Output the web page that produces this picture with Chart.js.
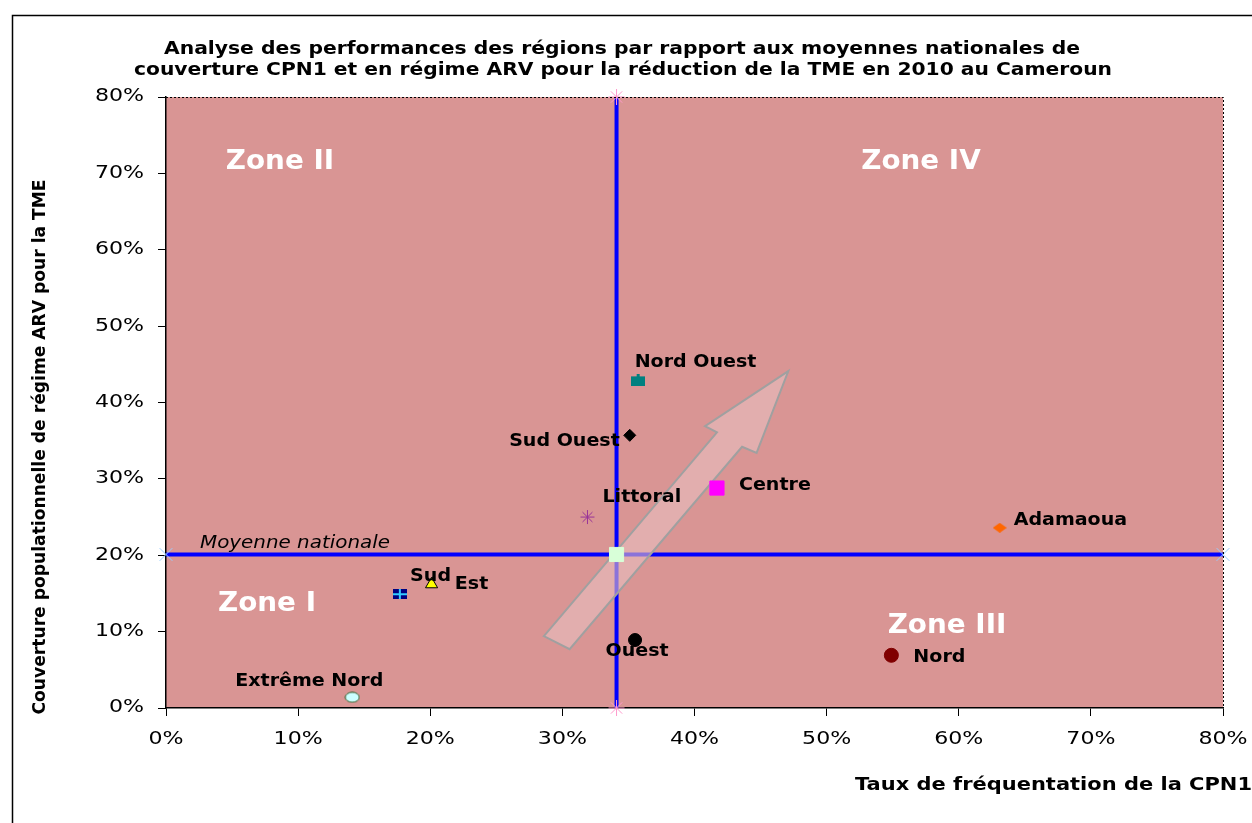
<!DOCTYPE html>
<html>
<head>
<meta charset="utf-8">
<script src="https://cdn.jsdelivr.net/npm/chart.js@4"></script>
<style>
  html, body { margin: 0; padding: 0; background: #fff; }
  canvas { display: block; }
</style>
</head>
<body>
<canvas id="chart" width="1252" height="823"></canvas>
<script>
// Data (percent)
const regions = ['Nord Ouest', 'Sud Ouest', 'Littoral', 'Centre', 'Adamaoua', 'Sud', 'Est', 'Ouest', 'Nord', 'Extrême Nord'];
const cpn1 = [35.7, 35.1, 31.9, 41.7, 63.1, 20.1, 17.7, 35.5, 54.9, 14.1];
const arv = [42.9, 35.7, 25.0, 28.8, 23.6, 16.2, 14.9, 8.9, 6.9, 1.4];
const nationalCpn1 = 34.1;
const nationalArv = 20.1;
const axisTicks = [0, 10, 20, 30, 40, 50, 60, 70, 80];
const titleLines = [
    'Analyse des performances des régions par rapport aux moyennes nationales de',
    'couverture CPN1 et en régime ARV pour la réduction de la TME en 2010 au Cameroun'
];
const xTitle = 'Taux de fréquentation de la CPN1';
const yTitle = 'Couverture populationnelle de régime ARV pour la TME';
// arrow outline, in data units
const arrowShape = [[28.6, 9.4], [30.55, 7.7], [43.6, 34.2], [44.7, 33.4], [47.1, 44.1], [40.8, 36.9], [41.7, 36.1]];

// small custom markers
function makeMarker(w, h, draw) {
    const cv = document.createElement('canvas');
    cv.width = w; cv.height = h;
    draw(cv.getContext('2d'));
    return cv;
}
const estMarker = makeMarker(14, 10, c => {
    c.fillStyle = '#000080';
    c.fillRect(0, 0, 14, 10);
    c.fillStyle = '#33CCFF';
    c.fillRect(6, 0, 2, 10);
    c.fillRect(0, 4, 14, 2);
});
const nordOuestMarker = makeMarker(14, 12, c => {
    c.fillStyle = '#008080';
    c.fillRect(0, 2, 14, 10);
    c.fillRect(6, 0, 3, 2);
});
const extremeNordMarker = makeMarker(16, 12, c => {
    c.beginPath();
    c.ellipse(8, 6, 7, 5, 0, 0, Math.PI * 2);
    c.fillStyle = '#CCFFFF';
    c.fill();
    c.strokeStyle = '#336633';
    c.lineWidth = 1;
    c.stroke();
});
const adamaouaMarker = makeMarker(14, 10, c => {
    c.beginPath();
    c.moveTo(0, 5); c.lineTo(7, 0); c.lineTo(14, 5); c.lineTo(7, 10);
    c.closePath();
    c.fillStyle = '#FF6600';
    c.fill();
});

const pointStyles = [nordOuestMarker, 'rectRot', 'star', 'rect', adamaouaMarker, 'triangle', estMarker, 'circle', 'circle', extremeNordMarker];
const pointColors = ['#008080', '#000000', '#993399', '#FF00FF', '#FF6600', '#FFFF00', '#000080', '#000000', '#800000', '#CCFFFF'];
const pointBorders = ['#008080', '#000000', '#993399', '#FF00FF', '#FF6600', '#000000', '#000080', '#000000', '#800000', '#336633'];
const pointSizes = [7, 6, 7, 10, 7, 7, 7, 6.5, 7, 7];

// label offsets from each point (px) and alignment
const labelPos = [
    [-3, -18, 'left'], [-10, 6, 'right'], [15, -19, 'left'], [22, -2, 'left'], [14, -7, 'left'],
    [-1, -8, 'center'], [55, -10, 'left'], [2, 12, 'center'], [22, 2, 'left'], [-43, -16, 'center']
];

function drawText(ctx, text, x, y, font, color, align, sx) {
    ctx.save();
    ctx.font = font;
    ctx.fillStyle = color;
    ctx.textBaseline = 'middle';
    ctx.textAlign = 'left';
    const w = ctx.measureText(text).width;
    const k = sx || 1;
    let x0 = x;
    if (align === 'center') x0 = x - w * k / 2;
    if (align === 'right') x0 = x - w * k;
    ctx.translate(x0, y);
    ctx.scale(k, 1);
    ctx.fillText(text, 0, 0);
    ctx.restore();
}

function fitText(ctx, text, font, width) {
    ctx.save();
    ctx.font = font;
    const w = ctx.measureText(text).width;
    ctx.restore();
    return width / w;
}

const decorPlugin = {
    id: 'decor',
    beforeDraw(chart) {
        const { ctx, chartArea: a } = chart;
        ctx.save();
        ctx.fillStyle = '#D99594';
        ctx.fillRect(a.left, a.top, a.right - a.left, a.bottom - a.top);
        ctx.restore();
    },
    afterDatasetDraw(chart, args) {
        // big arrow, drawn over the blue lines but under the markers
        if (args.index !== 1) return;
        const { ctx, scales: { x, y } } = chart;
        ctx.save();
        ctx.beginPath();
        arrowShape.forEach((p, i) => {
            const px = x.getPixelForValue(p[0]);
            const py = y.getPixelForValue(p[1]);
            if (i === 0) ctx.moveTo(px, py); else ctx.lineTo(px, py);
        });
        ctx.closePath();
        ctx.fillStyle = 'rgba(232, 192, 192, 0.6)';
        ctx.fill();
        ctx.strokeStyle = '#A0A0A0';
        ctx.lineWidth = 2;
        ctx.stroke();
        ctx.restore();
    },
    afterDraw(chart) {
        const { ctx, chartArea: a, scales: { x, y } } = chart;
        const lbl = 'bold 17px "DejaVu Sans"';

        // outer frame
        ctx.save();
        ctx.strokeStyle = '#000';
        ctx.lineWidth = 1.5;
        ctx.beginPath();
        ctx.moveTo(12.5, 823);
        ctx.lineTo(12.5, 15.5);
        ctx.lineTo(1252, 15.5);
        ctx.stroke();
        // dotted top / right of plot
        ctx.setLineDash([2, 2]);
        ctx.lineWidth = 1;
        ctx.beginPath();
        ctx.moveTo(a.left, a.top + 0.5);
        ctx.lineTo(a.right + 0.5, a.top + 0.5);
        ctx.lineTo(a.right + 0.5, a.bottom);
        ctx.stroke();
        ctx.restore();

        // tick labels
        axisTicks.forEach(v => {
            drawText(ctx, v + '%', x.getPixelForValue(v), 740, '17px "DejaVu Sans"', '#000', 'center', 1.3);
            drawText(ctx, v + '%', 144, y.getPixelForValue(v), '17px "DejaVu Sans"', '#000', 'right', 1.3);
        });

        // titles
        const tf = 'bold 17px "DejaVu Sans"';
        drawText(ctx, titleLines[0], 622, 50, tf, '#000', 'center', fitText(ctx, titleLines[0], tf, 916));
        drawText(ctx, titleLines[1], 623, 71, tf, '#000', 'center', fitText(ctx, titleLines[1], tf, 978));
        drawText(ctx, xTitle, 1252, 786, tf, '#000', 'right', fitText(ctx, xTitle, tf, 397));
        ctx.save();
        ctx.translate(41, 447);
        ctx.rotate(-Math.PI / 2);
        drawText(ctx, yTitle, 0, 0, tf, '#000', 'center', fitText(ctx, yTitle, tf, 535));
        ctx.restore();

        // zone labels
        const zf = 'bold 27px "DejaVu Sans"';
        drawText(ctx, 'Zone II', 280, 162, zf, '#fff', 'center', 1.03);
        drawText(ctx, 'Zone IV', 921, 162, zf, '#fff', 'center', 1.03);
        drawText(ctx, 'Zone I', 267, 604, zf, '#fff', 'center', 1.03);
        drawText(ctx, 'Zone III', 947, 626, zf, '#fff', 'center', 1.03);

        drawText(ctx, 'Moyenne nationale', 200, 544, 'italic 17px "DejaVu Sans"', '#000', 'left', 1.17);

        // region labels
        regions.forEach((name, i) => {
            const px = x.getPixelForValue(cpn1[i]);
            const py = y.getPixelForValue(arv[i]);
            const p = labelPos[i];
            drawText(ctx, name, px + p[0], py + p[1], lbl, '#000', p[2], 1.12);
        });
    }
};

const ctx = document.getElementById('chart').getContext('2d');

const regionSets = regions.map((name, i) => ({
    label: name,
    data: [{ x: cpn1[i], y: arv[i] }],
    pointStyle: pointStyles[i],
    backgroundColor: pointColors[i],
    borderColor: pointBorders[i],
    borderWidth: 1,
    pointRadius: pointSizes[i],
    showLine: false,
    order: 0
}));

const chart = new Chart(ctx, {
    type: 'scatter',
    data: {
        datasets: [
            {
                label: 'CPN1 national',
                data: [{ x: nationalCpn1, y: 0 }, { x: nationalCpn1, y: 80 }],
                showLine: true,
                borderColor: '#0000FF',
                borderWidth: 4,
                pointStyle: 'star',
                pointRadius: 8,
                pointBorderColor: '#FF99CC',
                pointBorderWidth: 1,
                order: 3
            },
            {
                label: 'ARV national',
                data: [{ x: 0, y: nationalArv }, { x: 80, y: nationalArv }],
                showLine: true,
                borderColor: '#0000FF',
                borderWidth: 4,
                pointStyle: 'crossRot',
                pointRadius: 9,
                pointBorderColor: '#99CCFF',
                pointBorderWidth: 1,
                order: 2
            },
            {
                label: 'Moyenne nationale',
                data: [{ x: nationalCpn1, y: nationalArv }],
                pointStyle: 'rect',
                pointRadius: 10,
                backgroundColor: '#D8FFD8',
                borderColor: '#D8FFD8',
                order: 1
            },
            ...regionSets
        ]
    },
    options: {
        responsive: false,
        animation: false,
        clip: false,
        layout: { padding: { top: 97, right: 29, left: 0, bottom: 0 } },
        plugins: {
            legend: { display: false },
            title: { display: false },
            tooltip: { enabled: false }
        },
        scales: {
            x: {
                type: 'linear',
                min: 0,
                max: 80,
                afterFit: s => { s.height = 115; },
                afterBuildTicks: s => { s.ticks = axisTicks.map(v => ({ value: v })); },
                ticks: { display: false },
                grid: { drawOnChartArea: false, drawTicks: true, tickLength: 8, color: '#000' },
                border: { color: '#000', width: 1.5 }
            },
            y: {
                type: 'linear',
                min: 0,
                max: 80,
                afterFit: s => { s.width = 166; },
                afterBuildTicks: s => { s.ticks = axisTicks.map(v => ({ value: v })); },
                ticks: { display: false },
                grid: { drawOnChartArea: false, drawTicks: true, tickLength: 8, color: '#000' },
                border: { color: '#000', width: 1.5 }
            }
        }
    },
    plugins: [decorPlugin]
});
</script>
</body>
</html>
